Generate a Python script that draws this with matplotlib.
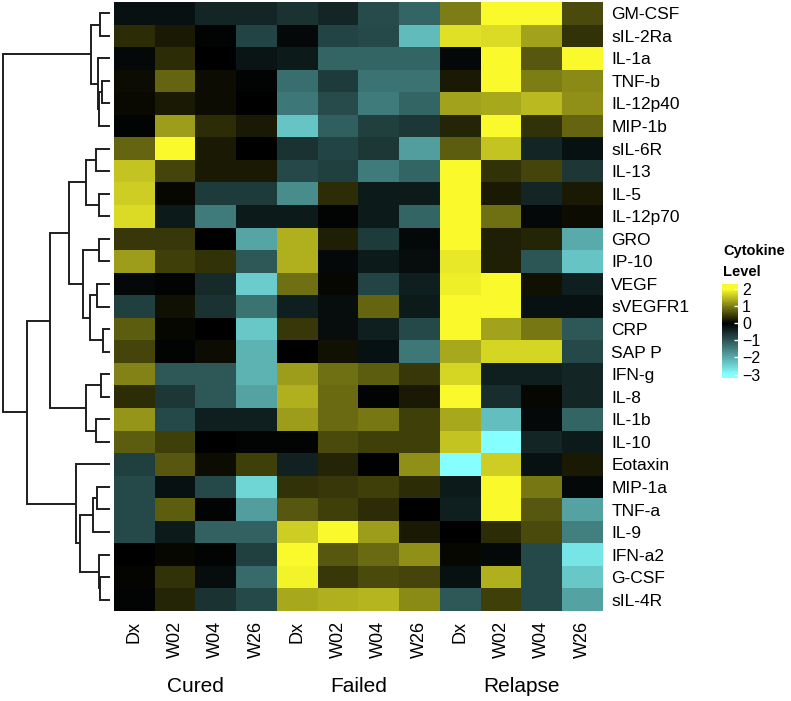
import numpy as np
import matplotlib
matplotlib.use('Agg')
import matplotlib.pyplot as plt
from matplotlib.colors import LinearSegmentedColormap, Normalize
from matplotlib.cm import ScalarMappable

plt.rcParams['font.family'] = ['Liberation Sans', 'DejaVu Sans']

cytokines = ['GM-CSF', 'sIL-2Ra', 'IL-1a', 'TNF-b', 'IL-12p40', 'MIP-1b', 'sIL-6R',
             'IL-13', 'IL-5', 'IL-12p70', 'GRO', 'IP-10', 'VEGF', 'sVEGFR1', 'CRP',
             'SAP P', 'IFN-g', 'IL-8', 'IL-1b', 'IL-10', 'Eotaxin', 'MIP-1a', 'TNF-a',
             'IL-9', 'IFN-a2', 'G-CSF', 'sIL-4R']
timepoints = ['Dx', 'W02', 'W04', 'W26']
groups = ['Cured', 'Failed', 'Relapse']

# scaled cytokine level, one row per cytokine, columns = timepoints
cured = [
    [-0.2, -0.2, -0.45, -0.45], [0.35, 0.2, -0.05, -0.8], [-0.1, 0.35, 0.0, -0.25],
    [0.1, 0.8, 0.1, -0.05], [0.08, 0.2, 0.1, 0.0], [-0.05, 1.25, 0.35, 0.2],
    [0.8, 2.3, 0.2, 0.0], [1.55, 0.55, 0.2, 0.2], [1.65, 0.05, -0.7, -0.7],
    [1.75, -0.3, -1.45, -0.3], [0.45, 0.45, 0.0, -1.95], [1.25, 0.5, 0.4, -1.05],
    [-0.1, -0.05, -0.5, -2.4], [-0.75, 0.15, -0.6, -1.35], [0.75, 0.05, 0.0, -2.35],
    [0.55, -0.05, 0.1, -2.1], [1.05, -1.05, -1.05, -2.1], [0.35, -0.65, -1.05, -1.9],
    [1.2, -0.85, -0.35, -0.35], [0.75, 0.5, 0.0, -0.05], [-0.75, 0.7, 0.1, 0.5],
    [-0.85, -0.2, -0.85, -2.5], [-0.85, 0.75, -0.05, -1.85], [-0.85, -0.3, -1.15, -1.15],
    [0.0, 0.05, -0.05, -0.75], [0.03, 0.4, -0.15, -1.25], [-0.05, 0.3, -0.6, -0.85],
]
failed = [
    [-0.6, -0.45, -0.9, -1.2], [-0.1, -0.8, -0.85, -2.2], [-0.3, -1.2, -1.2, -1.2],
    [-1.3, -0.7, -1.35, -1.35], [-1.4, -0.9, -1.45, -1.2], [-2.3, -1.1, -0.75, -0.65],
    [-0.6, -0.8, -0.65, -1.85], [-0.85, -0.75, -1.45, -1.2], [-1.65, 0.35, -0.3, -0.3],
    [-0.3, -0.05, -0.3, -1.2], [1.4, 0.25, -0.7, -0.1], [1.4, -0.1, -0.3, -0.15],
    [0.9, 0.05, -0.8, -0.35], [-0.35, -0.15, 0.8, -0.3], [0.45, -0.15, -0.35, -0.85],
    [0.0, 0.15, -0.2, -1.4], [1.25, 0.9, 0.75, 0.45], [1.4, 0.85, -0.05, 0.2],
    [1.25, 0.85, 0.95, 0.5], [-0.05, 0.6, 0.5, 0.5], [-0.4, 0.3, 0.0, 1.15],
    [0.4, 0.45, 0.5, 0.35], [0.7, 0.5, 0.35, 0.0], [1.65, 2.3, 1.25, 0.2],
    [2.3, 0.7, 0.85, 1.15], [1.95, 0.45, 0.6, 0.55], [1.35, 1.4, 1.45, 1.1],
]
relapse = [
    [1.0, 2.3, 2.3, 0.6], [1.8, 1.75, 1.3, 0.4], [-0.1, 2.3, 0.7, 2.3],
    [0.2, 2.3, 1.0, 1.1], [1.3, 1.35, 1.5, 1.15], [0.3, 2.3, 0.4, 0.8],
    [0.75, 1.55, -0.45, -0.2], [2.3, 0.4, 0.55, -0.65], [2.3, 0.2, -0.45, 0.2],
    [2.3, 0.9, -0.1, 0.1], [2.3, 0.25, 0.3, -2.0], [1.85, 0.25, -1.0, -2.3],
    [1.9, 2.3, 0.15, -0.35], [2.3, 2.3, -0.2, -0.2], [2.3, 1.3, 0.95, -1.05],
    [1.35, 1.7, 1.7, -0.85], [1.7, -0.35, -0.35, -0.45], [2.3, -0.55, 0.05, -0.45],
    [1.35, -2.25, -0.1, -1.2], [1.55, -3.0, -0.45, -0.3], [-3.0, 1.65, -0.2, 0.2],
    [-0.3, 2.3, 0.95, -0.1], [-0.35, 2.3, 0.7, -1.9], [0.0, 0.35, 0.6, -1.5],
    [0.05, -0.1, -0.85, -2.7], [-0.2, 1.4, -0.85, -2.35], [-1.05, 0.5, -0.85, -1.9],
]

# row dendrogram: (child a, child b, height); leaves 0..26, merges numbered from 27
linkage = [
    (0, 1, 10), (3, 4, 8.3), (28, 5, 11), (2, 29, 12.3), (27, 30, 19),
    (6, 7, 14), (8, 9, 10.7), (32, 33, 24.3), (10, 11, 11), (12, 13, 13.3),
    (14, 15, 6.7), (36, 37, 20), (35, 38, 26.7), (34, 39, 41), (16, 17, 9),
    (18, 19, 14), (41, 42, 24.3), (40, 43, 60), (21, 22, 13.3), (45, 23, 17.3),
    (25, 26, 10), (24, 47, 11), (46, 48, 30), (20, 49, 34), (44, 50, 82.7),
    (31, 51, 107.3),
]

data = np.hstack([np.array(cured), np.array(failed), np.array(relapse)])
nrow, ncol = data.shape

vmin, vmax = -3.2, 2.3
pos = lambda v: (v - vmin) / (vmax - vmin)
cmap = LinearSegmentedColormap.from_list('cyt', [
    (0.0, '#85FFFF'), (pos(-3), '#85FFFF'), (pos(0), '#000000'),
    (pos(2), '#F9F92B'), (1.0, '#F9F92B')])
norm = Normalize(vmin, vmax)

W, H = 791, 701
fig = plt.figure(figsize=(W / 100, H / 100), dpi=100)

def frac(x0, y0, x1, y1):
    return [x0 / W, 1 - y1 / H, (x1 - x0) / W, (y1 - y0) / H]

ax = fig.add_axes(frac(114, 2, 603, 611))
ax.imshow(data, cmap=cmap, norm=norm, aspect='auto', interpolation='nearest',
          extent=(0, ncol, nrow, 0))
ax.set_xlim(0, ncol)
ax.set_ylim(nrow, 0)
for s in ax.spines.values():
    s.set_visible(False)
ax.set_xticks(np.arange(ncol) + 0.5)
ax.set_xticklabels(timepoints * 3, rotation=90, fontsize=13)
ax.set_yticks(np.arange(nrow) + 0.5)
ax.set_yticklabels(cytokines, fontsize=12.5)
ax.yaxis.tick_right()
ax.tick_params(axis='x', length=0, pad=7)
ax.tick_params(axis='y', length=0, pad=6)

for i, g in enumerate(groups):
    xc = 114 + 489 / 12 * (4 * i + 2)
    fig.text(xc / W, 1 - 687 / H, g, ha='center', va='center', fontsize=15)

# dendrogram
dax = fig.add_axes(frac(0, 2, 114, 611))
ypos = {i: i + 0.5 for i in range(nrow)}
hpos = {i: 0.0 for i in range(nrow)}
for k, (a, b, h) in enumerate(linkage):
    node = nrow + k
    dax.plot([hpos[a], h, h, hpos[b]], [ypos[a], ypos[a], ypos[b], ypos[b]],
             color='#1e1e1e', lw=1.4, solid_joinstyle='miter', solid_capstyle='butt')
    ypos[node] = (ypos[a] + ypos[b]) / 2
    hpos[node] = h
dax.set_xlim(110, -4)
dax.set_ylim(nrow, 0)
dax.axis('off')

# colour key
cax = fig.add_axes(frac(722, 284, 738, 378))
cb = fig.colorbar(ScalarMappable(norm=norm, cmap=cmap), cax=cax, ticks=[2, 1, 0, -1, -2, -3])
cb.outline.set_visible(False)
cax.tick_params(direction='in', length=3, width=1, color='white', labelsize=11.5, pad=3)
fig.text(723 / W, 1 - 251 / H, 'Cytokine', fontsize=10.5, fontweight='bold', va='center')
fig.text(723 / W, 1 - 272 / H, 'Level', fontsize=10.5, fontweight='bold', va='center')

fig.savefig('out.png', dpi=100)
